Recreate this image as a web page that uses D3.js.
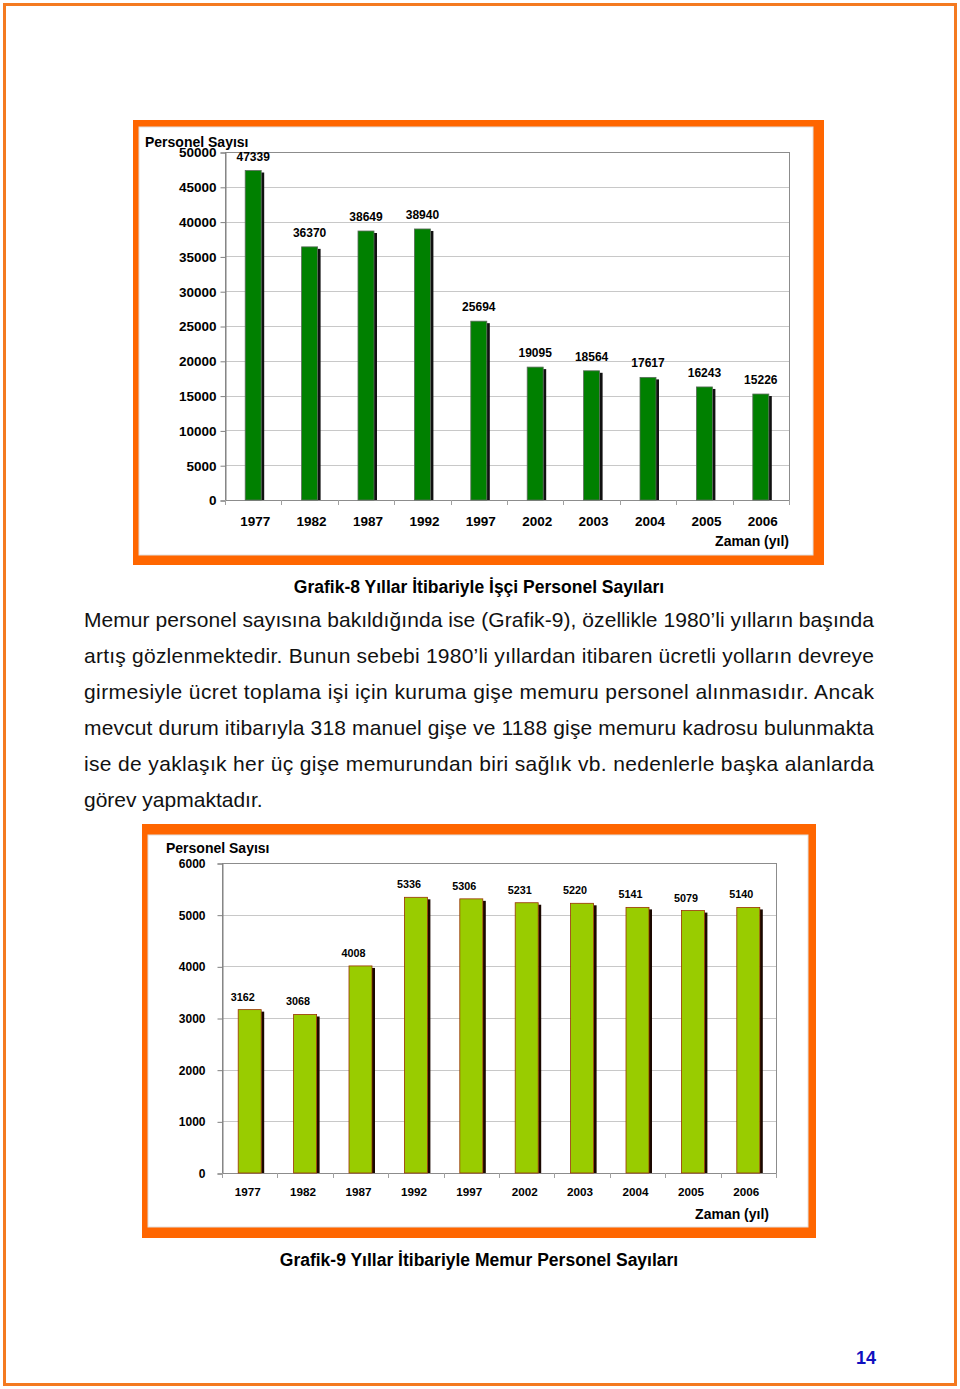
<!DOCTYPE html>
<html>
<head>
<meta charset="utf-8">
<script src="https://cdn.jsdelivr.net/npm/d3@7"></script>
<style>
  body { margin: 0; background: #fff; }
  svg { display: block; font-family: "Liberation Sans", Arial, sans-serif; }
</style>
</head>
<body>
<svg id="page" width="960" height="1389"></svg>
<script>
// data
var years = ["1977", "1982", "1987", "1992", "1997", "2002", "2003", "2004", "2005", "2006"];
var isciValues = [47339, 36370, 38649, 38940, 25694, 19095, 18564, 17617, 16243, 15226];
var memurValues = [3162, 3068, 4008, 5336, 5306, 5231, 5220, 5141, 5079, 5140];
var isciTicks = [0, 5000, 10000, 15000, 20000, 25000, 30000, 35000, 40000, 45000, 50000];
var memurTicks = [0, 1000, 2000, 3000, 4000, 5000, 6000];
var paragraph = [
  "Memur personel sayısına bakıldığında ise (Grafik-9), özellikle 1980’li yılların başında",
  "artış gözlenmektedir. Bunun sebebi 1980’li yıllardan itibaren ücretli yolların devreye",
  "girmesiyle ücret toplama işi için kuruma gişe memuru personel alınmasıdır. Ancak",
  "mevcut durum itibarıyla 318 manuel gişe ve 1188 gişe memuru kadrosu bulunmakta",
  "ise de yaklaşık her üç gişe memurundan biri sağlık vb. nedenlerle başka alanlarda",
  "görev yapmaktadır."
];

var svg = d3.select("#page");
var orange = "#ff6600";

// page border
svg.append("rect")
  .attr("x", 4.5).attr("y", 4.5)
  .attr("width", 951).attr("height", 1380)
  .attr("fill", "none")
  .attr("stroke", "#f47a20")
  .attr("stroke-width", 3);

function drawChart(o) {
  var g = svg.append("g");

  // orange frame (thicker on right/bottom)
  g.append("rect")
    .attr("x", o.frame[0]).attr("y", o.frame[1])
    .attr("width", o.frame[2] - o.frame[0]).attr("height", o.frame[3] - o.frame[1])
    .attr("fill", orange);
  g.append("rect")
    .attr("x", o.inner[0]).attr("y", o.inner[1])
    .attr("width", o.inner[2] - o.inner[0]).attr("height", o.inner[3] - o.inner[1])
    .attr("fill", "#fff")
    .attr("stroke", "#e0e0e0");

  var x = d3.scaleBand().domain(years).range([o.plot[0], o.plot[2]]);
  var y = d3.scaleLinear().domain([0, o.max]).range([o.plot[3], o.plot[1]]);

  // gridlines
  g.append("g").selectAll("line")
    .data(o.ticks.slice(1))
    .join("line")
    .attr("x1", o.plot[0]).attr("x2", o.plot[2])
    .attr("y1", function (d) { return Math.round(y(d)) + 0.5; })
    .attr("y2", function (d) { return Math.round(y(d)) + 0.5; })
    .attr("stroke", "#c8c8c8");

  // plot area border
  g.append("rect")
    .attr("x", o.plot[0] + 0.5).attr("y", o.plot[1] + 0.5)
    .attr("width", o.plot[2] - o.plot[0]).attr("height", o.plot[3] - o.plot[1])
    .attr("fill", "none")
    .attr("stroke", "#8c8c8c");

  // y axis
  var yAxis = g.append("g")
    .attr("transform", "translate(" + (o.plot[0] + 0.5) + ",0.5)")
    .call(d3.axisLeft(y).tickValues(o.ticks).tickSize(5).tickPadding(o.yPad).tickFormat(d3.format("d")));
  yAxis.select(".domain").attr("stroke", "#808080");
  yAxis.selectAll(".tick line").attr("stroke", "#808080");
  yAxis.selectAll("text")
    .attr("font-family", "Liberation Sans, Arial, sans-serif")
    .attr("font-size", o.yFont)
    .attr("font-weight", "bold")
    .attr("fill", "#000");

  // x axis (ticks between categories)
  var xAxis = g.append("g")
    .attr("transform", "translate(" + o.xShift + "," + (o.plot[3] + 0.5) + ")")
    .call(d3.axisBottom(x).tickSize(0).tickPadding(o.xPad));
  xAxis.select(".domain").remove();
  xAxis.selectAll("text")
    .attr("font-family", "Liberation Sans, Arial, sans-serif")
    .attr("font-size", o.xFont)
    .attr("font-weight", "bold")
    .attr("fill", "#000");
  g.append("g").selectAll("line")
    .data(years.concat(["end"]))
    .join("line")
    .attr("x1", function (d, i) { return Math.round(o.plot[0] + i * x.step()) + 0.5; })
    .attr("x2", function (d, i) { return Math.round(o.plot[0] + i * x.step()) + 0.5; })
    .attr("y1", o.plot[3]).attr("y2", o.plot[3] + 5)
    .attr("stroke", "#a0a0a0");

  // bars with right-side shadow
  var bars = g.append("g").selectAll("g")
    .data(o.values)
    .join("g");
  bars.append("rect")
    .attr("x", function (d, i) { return x(years[i]) + x.bandwidth() / 2 - o.barW / 2 + o.barW; })
    .attr("y", function (d) { return y(d) + 2; })
    .attr("width", 3)
    .attr("height", function (d) { return y(0) - y(d) - 2; })
    .attr("fill", o.shadow);
  bars.append("rect")
    .attr("x", function (d, i) { return x(years[i]) + x.bandwidth() / 2 - o.barW / 2; })
    .attr("y", function (d) { return y(d); })
    .attr("width", o.barW)
    .attr("height", function (d) { return y(0) - y(d); })
    .attr("fill", o.fill)
    .attr("stroke", o.stroke)
    .attr("stroke-width", 0.8);
  bars.append("text")
    .attr("x", function (d, i) { return x(years[i]) + x.bandwidth() / 2 + o.labelDx; })
    .attr("y", function (d) { return y(d) - o.labelDy; })
    .attr("text-anchor", "middle")
    .attr("font-size", o.labelFont)
    .attr("font-weight", "bold")
    .text(function (d) { return d; });

  // axis titles
  g.append("text")
    .attr("x", o.yTitle[0]).attr("y", o.yTitle[1])
    .attr("font-size", 14).attr("font-weight", "bold")
    .text("Personel Sayısı");
  g.append("text")
    .attr("x", o.xTitle[0]).attr("y", o.xTitle[1])
    .attr("text-anchor", "end")
    .attr("font-size", 14).attr("font-weight", "bold")
    .text("Zaman (yıl)");
}

// Grafik-8
drawChart({
  values: isciValues, ticks: isciTicks, max: 50000,
  frame: [133, 120, 824, 565], inner: [139, 127, 813, 555],
  plot: [225, 152, 789, 500],
  barW: 16, fill: "#008000", stroke: "#5a6a5a", shadow: "#111",
  yFont: 13.5, xFont: 13.5, labelFont: 12, labelDx: 0, labelDy: 10,
  yPad: 4, xPad: 16, xShift: 2,
  yTitle: [145, 147], xTitle: [789, 546]
});

// Grafik-9
drawChart({
  values: memurValues, ticks: memurTicks, max: 6000,
  frame: [142, 824, 816, 1238], inner: [148, 835, 808, 1227],
  plot: [222, 863, 776, 1173],
  barW: 23, fill: "#99cc00", stroke: "#993300", shadow: "#1a0800",
  yFont: 12, xFont: 11.7, labelFont: 10.8, labelDx: -7, labelDy: 9,
  yPad: 12, xPad: 14, xShift: -2,
  yTitle: [166, 853], xTitle: [769, 1219]
});

// captions
svg.append("text")
  .attr("x", 479).attr("y", 593)
  .attr("text-anchor", "middle")
  .attr("font-size", 17.5).attr("font-weight", "bold")
  .text("Grafik-8 Yıllar İtibariyle İşçi Personel Sayıları");
svg.append("text")
  .attr("x", 479).attr("y", 1266)
  .attr("text-anchor", "middle")
  .attr("font-size", 17.5).attr("font-weight", "bold")
  .text("Grafik-9 Yıllar İtibariyle Memur Personel Sayıları");

// paragraph, justified lines
svg.append("g").selectAll("text")
  .data(paragraph)
  .join("text")
  .attr("x", 84)
  .attr("y", function (d, i) { return 627 + i * 36; })
  .attr("font-size", 21)
  .attr("fill", "#111")
  .attr("textLength", function (d, i) { return i < paragraph.length - 1 ? 790 : null; })
  .attr("lengthAdjust", "spacing")
  .text(function (d) { return d; });

// page number
svg.append("text")
  .attr("x", 866).attr("y", 1364)
  .attr("text-anchor", "middle")
  .attr("font-size", 18).attr("font-weight", "bold")
  .attr("fill", "#1010c0")
  .text("14");
</script>
</body>
</html>
